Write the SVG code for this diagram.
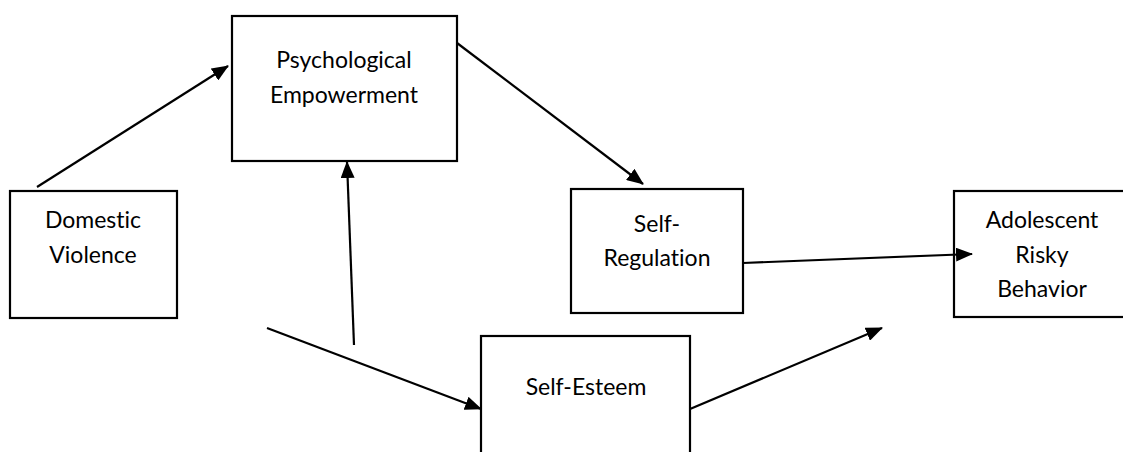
<svg xmlns="http://www.w3.org/2000/svg" width="1123" height="452" viewBox="0 0 1123 452">
<style>
.box{fill:#fff;stroke:#000;stroke-width:2.2}
.t{font-family:Lato,"Open Sans",sans-serif;font-size:23px;fill:#000;text-anchor:middle;font-variant-ligatures:none;font-feature-settings:"liga" 0}
.c line{stroke:#000;stroke-width:2.2}
</style>
<defs>
<marker id="a" markerWidth="17" markerHeight="14" refX="16" refY="7" orient="auto" markerUnits="userSpaceOnUse" viewBox="0 0 17 14">
<path d="M0,0 L17,7 L0,14 Z" fill="#000"/>
</marker>
</defs>
<rect width="1123" height="452" fill="#fff"/>
<g id="pe"><rect class="box" x="232" y="16" width="225" height="145"/>
<text class="t" x="344" y="68">Psychological</text><text class="t" x="344" y="103">Empowerment</text></g>
<g id="dv"><rect class="box" x="10" y="191" width="167" height="127"/>
<text class="t" x="93" y="228">Domestic</text><text class="t" x="93" y="263">Violence</text></g>
<g id="sr"><rect class="box" x="571" y="189" width="172" height="124"/>
<text class="t" x="657" y="232">Self-</text><text class="t" x="657" y="266">Regulation</text></g>
<g id="arb"><rect class="box" x="954" y="191" width="175" height="126"/>
<text class="t" x="1042" y="228">Adolescent</text><text class="t" x="1042" y="263">Risky</text><text class="t" x="1042" y="297">Behavior</text></g>
<g id="se"><rect class="box" x="481" y="336" width="209" height="130"/>
<text class="t" x="586" y="395">Self-Esteem</text></g>
<g class="c" id="connectors">
<line x1="37" y1="187" x2="228" y2="66" marker-end="url(#a)"/>
<line x1="457" y1="43" x2="643" y2="184" marker-end="url(#a)"/>
<line x1="354" y1="345" x2="347" y2="162" marker-end="url(#a)"/>
<line x1="267" y1="328" x2="481" y2="409" marker-end="url(#a)"/>
<line x1="743" y1="263" x2="972" y2="254" marker-end="url(#a)"/>
<line x1="690" y1="409" x2="882" y2="328" marker-end="url(#a)"/>
</g>
</svg>
